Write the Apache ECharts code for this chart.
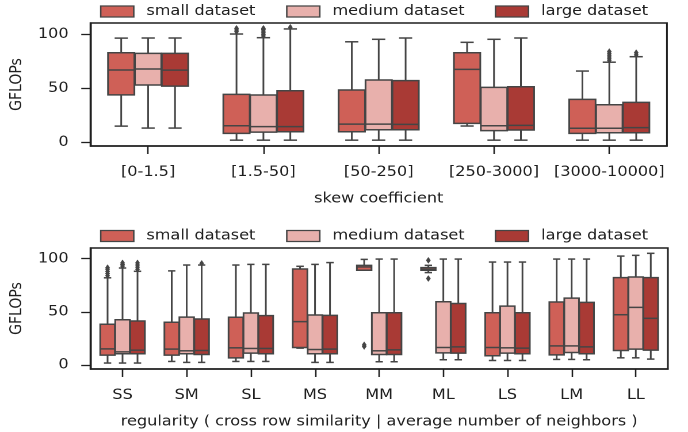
<!DOCTYPE html>
<html>
<head>
<meta charset="utf-8">
<script src="https://cdn.jsdelivr.net/npm/echarts@6/dist/echarts.min.js"></script>
<style>
  html, body { margin: 0; padding: 0; background: #ffffff; overflow: hidden; }
  #chart { width: 598px; height: 432px; transform: scaleX(1.1505); transform-origin: 0 0; }
</style>
</head>
<body>
<div id="chart"></div>
<script>
// ---------- data ----------
const hueNames = ['small dataset', 'medium dataset', 'large dataset'];
const hueColors = ['#cf6057', '#e8b0ac', '#a93a35'];

const skewCategories = ['[0-1.5]', '[1.5-50]', '[50-250]', '[250-3000]', '[3000-10000]'];
// each row: [whiskerLow, q1, median, q3, whiskerHigh]
const skewSmall = [
  [15, 44, 67, 83, 96.5],
  [2, 8.3, 15.4, 44.4, 100.3],
  [2, 9.8, 16.9, 48.4, 93.1],
  [15.1, 17.6, 67.6, 83.0, 92.6],
  [2, 8.3, 13, 39.8, 66]
];
const skewMedium = [
  [13.2, 53.1, 67.9, 82.4, 96.6],
  [2, 9.5, 14.5, 43.8, 96.9],
  [2, 11.7, 16.9, 57.7, 95.4],
  [2, 10.8, 15.4, 50.9, 95.4],
  [2, 8.9, 13, 34.8, 74.2]
];
const skewLarge = [
  [13.2, 52.1, 66.9, 82.4, 96.6],
  [2, 9.8, 14.5, 47.8, 105],
  [2, 11.7, 16.6, 57.1, 96.6],
  [2, 11.4, 15.7, 51.5, 96.6],
  [2, 8.9, 13.6, 37, 79.3]
];
// outliers: [categoryIndex, value]
const skewSmallOut = [[1, 102.5], [1, 104], [1, 105.5]];
const skewMediumOut = [[1, 98.5], [1, 100], [1, 101.5], [1, 103], [1, 104.5], [1, 105.5],
                       [4, 76], [4, 78], [4, 80], [4, 82], [4, 84]];
const skewLargeOut = [[1, 106.5], [4, 81], [4, 83]];

const regCategories = ['SS', 'SM', 'SL', 'MS', 'MM', 'ML', 'LS', 'LM', 'LL'];
const regSmall = [
  [1.9, 9.3, 15.2, 38.3, 82],
  [3.4, 9.3, 15, 40.2, 88.5],
  [3.4, 6.8, 16.2, 44.9, 94],
  [15.9, 16.5, 40.8, 90.3, 92.8],
  [89.1, 89.1, 92.2, 93.7, 99.3],
  [86.9, 89.1, 90, 91.6, 93.7],
  [4.3, 8.7, 16.5, 49.2, 96.8],
  [5.3, 9.6, 18, 59.2, 99.6],
  [6.8, 13.7, 47.3, 82.2, 102.4]
];
const regMedium = [
  [1.9, 10.6, 12.4, 42.6, 91.2],
  [2.5, 10.6, 13.4, 45.1, 94],
  [3.4, 11.2, 15.6, 48.9, 94.6],
  [2.5, 10.6, 14.6, 47, 94.6],
  [3.1, 9.9, 13.4, 49.2, 99.6],
  [5, 11.5, 16.5, 59.5, 99.6],
  [4.3, 11.2, 16.2, 55.4, 96.8],
  [5.3, 11.8, 18, 62.9, 99.6],
  [6.8, 15, 54.2, 82.8, 103.1]
];
const regLarge = [
  [1.9, 10.6, 14, 41.4, 88.1],
  [2.5, 9.9, 13.7, 43.3, 94],
  [3.4, 10.6, 15.6, 46.4, 94.6],
  [2.5, 10.6, 15, 46.7, 96.3],
  [3.1, 9.9, 14.3, 49.2, 99.6],
  [5, 11.2, 17.1, 57.9, 99.6],
  [4.3, 10.6, 15.9, 49.2, 96.8],
  [5, 10.6, 17.1, 58.9, 99.6],
  [5.6, 14, 43.9, 82.2, 105]
];
const regSmallOut = [[0, 84], [0, 86], [0, 88], [0, 90], [0, 91.5], [4, 17.5], [4, 19], [5, 81.3], [5, 98.4]];
const regMediumOut = [[0, 93], [0, 94.5], [0, 96]];
const regLargeOut = [[0, 90], [0, 92], [0, 94], [0, 96], [1, 95.5]];

const yTicks = [0, 50, 100];

// ---------- style ----------
const FONT = 'DejaVu Sans';
const FS = 14;
const TXT = '#1f1f1f';
const EDGE = '#454545';
const BOX_SPAN = 0.7 / 3;

function boxRender(hue) {
  return function (params, api) {
    const cat = api.value(0);
    const bw = api.size([1, 0])[0];
    const cx = api.coord([cat, 0])[0] + (hue - 1) * BOX_SPAN * bw;
    const w = BOX_SPAN * 0.98 * bw;
    const y = v => api.coord([cat, v])[1];
    const lo = y(api.value(1)), q1 = y(api.value(2)), med = y(api.value(3)),
          q3 = y(api.value(4)), hi = y(api.value(5));
    const st = { stroke: EDGE, lineWidth: 1.5 };
    return {
      type: 'group',
      children: [
        { type: 'line', shape: { x1: cx, y1: q3, x2: cx, y2: hi }, style: st },
        { type: 'line', shape: { x1: cx, y1: q1, x2: cx, y2: lo }, style: st },
        { type: 'line', shape: { x1: cx - w / 4, y1: hi, x2: cx + w / 4, y2: hi }, style: st },
        { type: 'line', shape: { x1: cx - w / 4, y1: lo, x2: cx + w / 4, y2: lo }, style: st },
        { type: 'rect', shape: { x: cx - w / 2, y: q3, width: w, height: q1 - q3 },
          style: { fill: hueColors[hue], stroke: EDGE, lineWidth: 1.5 } },
        { type: 'line', shape: { x1: cx - w / 2, y1: med, x2: cx + w / 2, y2: med }, style: st }
      ]
    };
  };
}

function outRender(hue) {
  return function (params, api) {
    const cat = api.value(0);
    const bw = api.size([1, 0])[0];
    const p = api.coord([cat, api.value(1)]);
    const cx = p[0] + (hue - 1) * BOX_SPAN * bw;
    const yy = p[1];
    return {
      type: 'polygon',
      shape: { points: [[cx, yy - 3], [cx + 1.8, yy], [cx, yy + 3], [cx - 1.8, yy]] },
      style: { fill: EDGE, stroke: EDGE, lineWidth: 0.5 }
    };
  };
}

function boxData(rows) { return rows.map((r, i) => [i].concat(r)); }

function makeSeries(idx, rowsList, outList) {
  const s = [];
  rowsList.forEach((rows, h) => {
    s.push({
      type: 'custom', name: hueNames[h], xAxisIndex: idx, yAxisIndex: idx,
      itemStyle: { color: hueColors[h] },
      renderItem: boxRender(h), data: boxData(rows),
      encode: { x: 0, y: [1, 2, 3, 4, 5] }, z: 3
    });
  });
  outList.forEach((pts, h) => {
    s.push({
      type: 'custom', name: hueNames[h], xAxisIndex: idx, yAxisIndex: idx,
      itemStyle: { color: hueColors[h] },
      renderItem: outRender(h), data: pts,
      encode: { x: 0, y: 1 }, z: 4
    });
  });
  return s;
}

const tickStyle = { color: TXT, width: 1.3 };
function xAxisCfg(idx, cats, name) {
  return {
    type: 'category', gridIndex: idx, data: cats,
    axisLine: { show: true, onZero: false, lineStyle: { color: TXT, width: 1.5 } },
    axisTick: { show: true, alignWithLabel: true, length: 8, lineStyle: tickStyle },
    axisLabel: { fontFamily: FONT, fontSize: FS, color: TXT, margin: 19.5, interval: 0, hideOverlap: false },
    splitLine: { show: false },
    name: name, nameLocation: 'middle', nameGap: 46,
    nameTextStyle: { fontFamily: FONT, fontSize: FS, color: TXT }
  };
}
function yAxisCfg(idx, min, max) {
  return {
    type: 'value', gridIndex: idx, min: min, max: max,
    axisLine: { show: true, onZero: false, lineStyle: { color: TXT, width: 1.5 } },
    axisTick: { show: true, length: 8, lineStyle: tickStyle, customValues: yTicks },
    axisLabel: { fontFamily: FONT, fontSize: FS, color: TXT, margin: 19, customValues: yTicks },
    splitLine: { show: false },
    name: 'GFLOPs', nameLocation: 'middle', nameGap: 41,
    nameTextStyle: { fontFamily: FONT, fontSize: FS, color: TXT }
  };
}

const legendLefts = [86.9, 248.6, 430];
function legends(top) {
  return hueNames.map((n, h) => ({
    data: [{ name: n, icon: 'rect', itemStyle: { color: hueColors[h], borderColor: EDGE, borderWidth: 1.3 } }],
    left: legendLefts[h], top: top, padding: 0,
    itemWidth: 28.7, itemHeight: 11,
    selectedMode: false,
    textStyle: { fontFamily: FONT, fontSize: FS, color: TXT, padding: [0, 0, 0, 6] }
  }));
}

const chart = echarts.init(document.getElementById('chart'), null,
  { renderer: 'canvas', width: 598, height: 432, devicePixelRatio: 2 });

chart.setOption({
  animation: false,
  backgroundColor: '#ffffff',
  legend: legends(4.5).concat(legends(229)),
  grid: [
    { left: 69.5, top: 23, width: 510.2, height: 123, show: true, borderColor: TXT, borderWidth: 1.5, backgroundColor: 'transparent' },
    { left: 69.5, top: 248, width: 511, height: 121, show: true, borderColor: TXT, borderWidth: 1.5, backgroundColor: 'transparent' }
  ],
  xAxis: [
    xAxisCfg(0, skewCategories, 'skew coefficient'),
    xAxisCfg(1, regCategories, 'regularity ( cross row similarity | average number of neighbors )')
  ],
  yAxis: [yAxisCfg(0, -3.4, 110.5), yAxisCfg(1, -3.7, 110)],
  series: makeSeries(0, [skewSmall, skewMedium, skewLarge], [skewSmallOut, skewMediumOut, skewLargeOut])
    .concat(makeSeries(1, [regSmall, regMedium, regLarge], [regSmallOut, regMediumOut, regLargeOut]))
});
</script>
</body>
</html>
